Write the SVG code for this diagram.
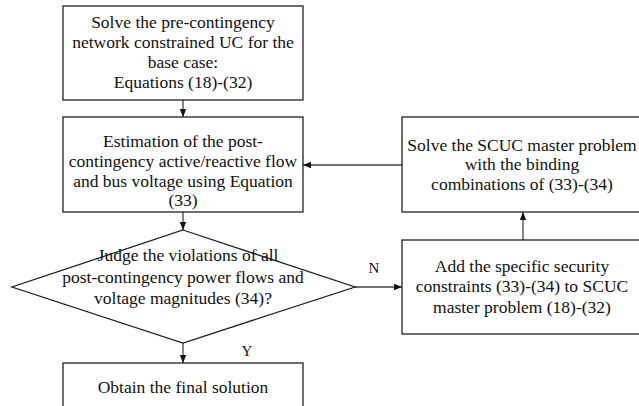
<svg xmlns="http://www.w3.org/2000/svg" width="639" height="406" viewBox="0 0 639 406">
<style>
.box{fill:#fff;stroke:#222;stroke-width:1.3}
.t{font-family:'Liberation Serif',Tinos,'Times New Roman',Times,'DejaVu Serif',serif;font-size:17.5px;fill:#111;text-anchor:middle}
.lbl{font-family:'Liberation Serif',Tinos,'Times New Roman',Times,'DejaVu Serif',serif;font-size:15px;fill:#111;text-anchor:middle}
.c{fill:none;stroke:#444;stroke-width:1.3}
</style>
<defs>
<marker id="ah" viewBox="0 0 10 10" refX="10" refY="5" markerWidth="8" markerHeight="8" markerUnits="userSpaceOnUse" orient="auto">
<path d="M0,1 L10,5 L0,9 Z" fill="#111"/>
</marker>
</defs>
<rect width="639" height="406" fill="#fff"/>
<g id="connectors">
<line class="c" x1="183" y1="100" x2="183" y2="117" marker-end="url(#ah)"/>
<line class="c" x1="183" y1="212" x2="183" y2="230" marker-end="url(#ah)"/>
<line class="c" x1="183" y1="343" x2="183" y2="363" marker-end="url(#ah)"/>
<line class="c" x1="355" y1="287" x2="402" y2="287" marker-end="url(#ah)"/>
<line class="c" x1="523" y1="240" x2="523" y2="212" marker-end="url(#ah)"/>
<line class="c" x1="402" y1="165" x2="303" y2="165" marker-end="url(#ah)"/>
<text class="lbl" x="374" y="273">N</text>
<text class="lbl" x="247" y="356">Y</text>
</g>
<g id="node-base">
<rect class="box" x="63" y="6" width="240" height="94"/>
<text class="t" x="183" y="28">Solve the pre-contingency</text>
<text class="t" x="183" y="48">network constrained UC for the</text>
<text class="t" x="183" y="68">base case:</text>
<text class="t" x="183" y="88">Equations (18)-(32)</text>
</g>
<g id="node-estimation">
<rect class="box" x="63" y="117" width="240" height="95"/>
<text class="t" x="183" y="147">Estimation of the post-</text>
<text class="t" x="183" y="167">contingency active/reactive flow</text>
<text class="t" x="183" y="187">and bus voltage using Equation</text>
<text class="t" x="183" y="206">(33)</text>
</g>
<g id="node-judge">
<polygon class="box" points="183,230 355,287 183,343 12,287"/>
<text class="t" x="188" y="261">Judge the violations of all</text>
<text class="t" x="183" y="282.5">post-contingency power flows and</text>
<text class="t" x="183" y="304">voltage magnitudes (34)?</text>
</g>
<g id="node-final">
<rect class="box" x="63" y="363" width="240" height="60"/>
<text class="t" x="183" y="393">Obtain the final solution</text>
</g>
<g id="node-master">
<rect class="box" x="402" y="117" width="240" height="95"/>
<text class="t" x="522" y="150.5">Solve the SCUC master problem</text>
<text class="t" x="522" y="170">with the binding</text>
<text class="t" x="522" y="190">combinations of (33)-(34)</text>
</g>
<g id="node-add">
<rect class="box" x="402" y="240" width="240" height="94"/>
<text class="t" x="522" y="272">Add the specific security</text>
<text class="t" x="522" y="292">constraints (33)-(34) to SCUC</text>
<text class="t" x="522" y="313">master problem (18)-(32)</text>
</g>
</svg>
